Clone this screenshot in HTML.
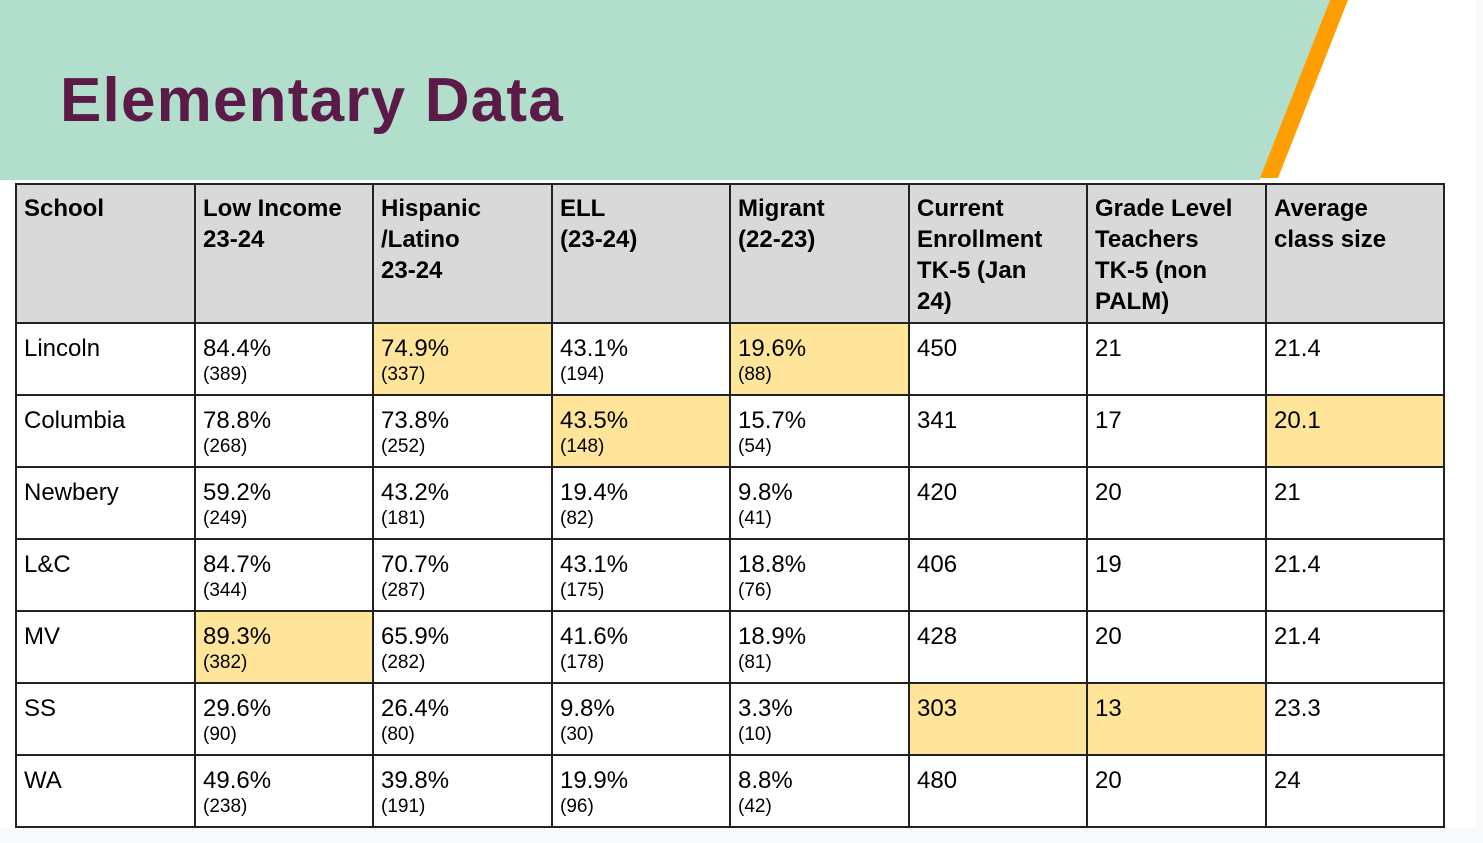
<!DOCTYPE html>
<html><head><meta charset="utf-8"><style>
body{margin:0;width:1483px;height:843px;background:#f8f9fa;position:relative;overflow:hidden;font-family:"Liberation Sans",Arial,sans-serif}
#slide{position:absolute;left:0;top:0;width:1476px;height:828px;background:#fff;overflow:hidden}
h1{position:absolute;left:60px;top:66px;margin:0;font-size:62px;font-weight:bold;color:#5b1a48;letter-spacing:1.2px;line-height:70px}
table{position:absolute;left:15px;top:183px;border-collapse:collapse;table-layout:fixed}
td,th{border:2px solid #222;vertical-align:top;text-align:left;padding:10px 4px 0 7px;font-size:24px;color:#000;line-height:31px;white-space:nowrap}
th{background:#d9d9d9;height:129px;font-weight:bold;padding-top:8px}
td{height:60px;line-height:30px}
td small{display:block;font-size:19px;line-height:26px;margin-top:-2px}
.y{background:#ffe599}
</style></head><body>
<div id="slide">
<svg width="1476" height="183" style="position:absolute;left:0;top:0">
<polygon points="0,0 1330,0 1260,180 0,180" fill="#b2dfcc"/>
<polygon points="1330,0 1348,0 1278,178 1260,178" fill="#ff9e00"/>
</svg>
<h1>Elementary Data</h1>
<table>
<colgroup><col style="width:179px"><col style="width:178px"><col style="width:179px"><col style="width:178px"><col style="width:179px"><col style="width:178px"><col style="width:179px"><col style="width:178px"></colgroup>
<tr><th>School</th><th>Low Income<br>23-24</th><th>Hispanic<br>/Latino<br>23-24</th><th>ELL<br>(23-24)</th><th>Migrant<br>(22-23)</th><th>Current<br>Enrollment<br>TK-5 (Jan<br>24)</th><th>Grade Level<br>Teachers<br>TK-5 (non<br>PALM)</th><th>Average<br>class size</th></tr>
<tr><td>Lincoln</td><td>84.4%<small>(389)</small></td><td class="y">74.9%<small>(337)</small></td><td>43.1%<small>(194)</small></td><td class="y">19.6%<small>(88)</small></td><td>450</td><td>21</td><td>21.4</td></tr>
<tr><td>Columbia</td><td>78.8%<small>(268)</small></td><td>73.8%<small>(252)</small></td><td class="y">43.5%<small>(148)</small></td><td>15.7%<small>(54)</small></td><td>341</td><td>17</td><td class="y">20.1</td></tr>
<tr><td>Newbery</td><td>59.2%<small>(249)</small></td><td>43.2%<small>(181)</small></td><td>19.4%<small>(82)</small></td><td>9.8%<small>(41)</small></td><td>420</td><td>20</td><td>21</td></tr>
<tr><td>L&amp;C</td><td>84.7%<small>(344)</small></td><td>70.7%<small>(287)</small></td><td>43.1%<small>(175)</small></td><td>18.8%<small>(76)</small></td><td>406</td><td>19</td><td>21.4</td></tr>
<tr><td>MV</td><td class="y">89.3%<small>(382)</small></td><td>65.9%<small>(282)</small></td><td>41.6%<small>(178)</small></td><td>18.9%<small>(81)</small></td><td>428</td><td>20</td><td>21.4</td></tr>
<tr><td>SS</td><td>29.6%<small>(90)</small></td><td>26.4%<small>(80)</small></td><td>9.8%<small>(30)</small></td><td>3.3%<small>(10)</small></td><td class="y">303</td><td class="y">13</td><td>23.3</td></tr>
<tr><td>WA</td><td>49.6%<small>(238)</small></td><td>39.8%<small>(191)</small></td><td>19.9%<small>(96)</small></td><td>8.8%<small>(42)</small></td><td>480</td><td>20</td><td>24</td></tr>
</table>
</div>
</body></html>
